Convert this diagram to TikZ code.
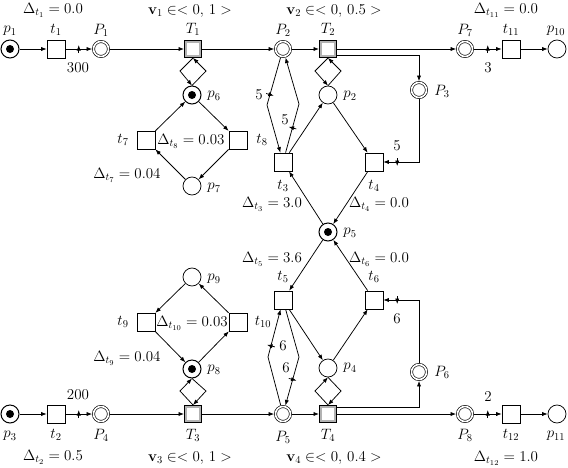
\RequirePackage{fix-cm}
\documentclass[tikz,border=0pt]{standalone}
\usetikzlibrary{arrows.meta,decorations.markings}
\begin{document}
\begin{tikzpicture}[x=1pt,y=-1pt,
  font=\fontsize{15}{17}\selectfont,
  every node/.style={inner sep=0pt},
  pl/.style={circle,draw,line width=0.75pt,minimum size=18pt,inner sep=0pt,fill=white},
  dpl/.style={circle,draw,line width=0.65pt,double,double distance=1.6pt,minimum size=15pt,inner sep=0pt,outer sep=1.4pt},
  tok/.style={pl,line width=1pt,path picture={\fill[black] (path picture bounding box.center) circle (4pt);}},
  tr/.style={rectangle,draw,line width=0.75pt,minimum size=18pt,inner sep=0pt,fill=white},
  Tr/.style={rectangle,draw,line width=0.6pt,double=gray!60,double distance=2.2pt,minimum size=14.6pt,fill=white,outer sep=1.7pt},
  arc/.style={line width=0.75pt,-{Latex[length=5.5pt,width=4.2pt]}},
  tick/.style={postaction={decorate,decoration={markings,mark=at position #1 with {\draw[line width=0.75pt] (0,-4pt)--(0,4pt);}}}}
]
\useasboundingbox (0,0) rectangle (568,467);
% top row
\node[tok] (p1) at (10,49) {};
\node[tr] (t1) at (56,49) {};
\node[dpl] (P1) at (101,49) {};
\node[Tr] (T1) at (193,49) {};
\node[dpl] (P2) at (283,49) {};
\node[Tr] (T2) at (328,49) {};
\node[dpl] (P7) at (465,49) {};
\node[tr] (t11) at (511,49) {};
\node[pl] (p10) at (557,49) {};
\node[dpl] (P3) at (419,90) {};
\node[tok] (p6) at (192,95) {};
\node[pl] (p2) at (328,95) {};
\node[tr] (t7) at (146,140) {};
\node[tr] (t8) at (238,140) {};
\node[pl] (p7) at (192,186) {};
\node[tr] (t3) at (283,162) {};
\node[tr] (t4) at (374,162) {};
\node[tok] (p5) at (328,232) {};
% bottom
\node[tr] (t5) at (283,300) {};
\node[tr] (t6) at (374,300) {};
\node[pl] (p9) at (192,277) {};
\node[tr] (t9) at (146,322) {};
\node[tr] (t10) at (238,322) {};
\node[tok] (p8) at (192,369) {};
\node[pl] (p4) at (328,368) {};
\node[dpl] (P6) at (419,372) {};
\node[tok] (p3) at (10,414) {};
\node[tr] (t2) at (56,414) {};
\node[dpl] (P4) at (101,414) {};
\node[Tr] (T3) at (193,414) {};
\node[dpl] (P5) at (283,414) {};
\node[Tr] (T4) at (328,414) {};
\node[dpl] (P8) at (465,414) {};
\node[tr] (t12) at (511,414) {};
\node[pl] (p11) at (557,414) {};
% corner points
\coordinate (a1) at (180,71); \coordinate (a2) at (206,71);
\coordinate (a3) at (315,71); \coordinate (a4) at (341,71);
\coordinate (b1) at (180,391); \coordinate (b2) at (206,391);
\coordinate (b3) at (315,391); \coordinate (b4) at (341,391);
\coordinate (c1) at (267,105); \coordinate (c2) at (299,104);
\coordinate (c3) at (268,357); \coordinate (c4) at (299,357);
% top row arcs
\draw[arc] (p1) -- (t1);
\draw[arc,tick=0.5] (t1) -- (P1);
\draw[arc] (P1) -- (T1);
\draw[arc] (T1) -- (P2);
\draw[arc] (P2) -- (T2);
\draw[arc] (T2) -- (P7);
\draw[arc] ([yshift=-6pt]T2.east) -| (P3);
\draw[arc,tick=0.5] (P7) -- (t11);
\draw[arc] (t11) -- (p10);
\draw[arc] (T1.south) -- (a1) -- (p6.north);
\draw[arc] (p6.north) -- (a2) -- (T1.south);
\draw[arc] (T2.south) -- (a3) -- (p2.north);
\draw[arc] (p2.north) -- (a4) -- (T2.south);
\draw[arc] (p6) -- (t8);
\draw[arc] (t8) -- (p7);
\draw[arc] (p7) -- (t7);
\draw[arc] (t7) -- (p6);
\draw[arc] (t3) -- (p2);
\draw[arc] (p2) -- (t4);
\draw[arc] (t4) -- (p5);
\draw[arc] (p5) -- (t3);
\draw[arc,tick=0.39] (P2) -- (c1) -- (t3);
\draw[arc,tick=0.26] (t3) -- (c2) -- (P2);
\draw[arc,tick=0.86] (P3) |- (t4);
% bottom arcs
\draw[arc] (p5) -- (t5);
\draw[arc] (t5) -- (p4);
\draw[arc] (p4) -- (t6);
\draw[arc] (t6) -- (p5);
\draw[arc,tick=0.86] (P6) |- (t6);
\draw[arc] (p9) -- (t9);
\draw[arc] (t9) -- (p8);
\draw[arc] (p8) -- (t10);
\draw[arc] (t10) -- (p9);
\draw[arc,tick=0.62] (P5) -- (c3) -- (t5);
\draw[arc,tick=0.73] (t5) -- (c4) -- (P5);
\draw[arc] (T3.north) -- (b1) -- (p8.south);
\draw[arc] (p8.south) -- (b2) -- (T3.north);
\draw[arc] (T4.north) -- (b3) -- (p4.south);
\draw[arc] (p4.south) -- (b4) -- (T4.north);
\draw[arc] (p3) -- (t2);
\draw[arc,tick=0.5] (t2) -- (P4);
\draw[arc] (P4) -- (T3);
\draw[arc] (T3) -- (P5);
\draw[arc] (P5) -- (T4);
\draw[arc] ([yshift=7pt]T4.east) -| (P6);
\draw[arc] (T4) -- (P8);
\draw[arc,tick=0.5] (P8) -- (t12);
\draw[arc] (t12) -- (p11);
% labels top
\node (L1) at (53,10) {$\Delta_{t_1} = 0.0$};
\node (L2) at (190,11) {$\mathbf{v}_1 \in < 0,\, 1 >$};
\node (L3) at (334,11) {$\mathbf{v}_2 \in < 0,\, 0.5 >$};
\node (L4) at (506,10) {$\Delta_{t_{11}} = 0.0$};
\node (lp1) at (10,31) {$p_1$};
\node (lt1) at (56,30) {$t_1$};
\node (lP1) at (101,30) {$P_1$};
\node (lT1) at (193,29) {$T_1$};
\node (lP2) at (283,30) {$P_2$};
\node (lT2) at (328,29) {$T_2$};
\node (lP7) at (465,30) {$P_7$};
\node (lt11) at (511,30) {$t_{11}$};
\node (lp10) at (556,31) {$p_{10}$};
\node (w300) at (78,68) {$300$};
\node (w3) at (488,68) {$3$};
\node (lP3) at (442,91) {$P_3$};
\node (lp6) at (214,96) {$p_6$};
\node (lp2) at (350,96) {$p_2$};
\node (w5a) at (259,95) {$5$};
\node (w5b) at (285,120) {$5$};
\node (w5c) at (397,146) {$5$};
\node (lt7) at (123,140) {$t_7$};
\node (lt8) at (262,140) {$t_8$};
\node (L8) at (191,141) {$\Delta_{t_8} = 0.03$};
\node (L7) at (127,175) {$\Delta_{t_7} = 0.04$};
\node (lp7) at (214,188) {$p_7$};
\node (lt3) at (283,186) {$t_3$};
\node (lt4) at (374,186) {$t_4$};
\node (L33) at (272,204) {$\Delta_{t_3} = 3.0$};
\node (L44) at (379,204) {$\Delta_{t_4} = 0.0$};
\node (lp5) at (350,233) {$p_5$};
% labels bottom
\node (L55) at (272,259) {$\Delta_{t_5} = 3.6$};
\node (L66) at (379,259) {$\Delta_{t_6} = 0.0$};
\node (lt5) at (283,277) {$t_5$};
\node (lt6) at (374,277) {$t_6$};
\node (lp9) at (214,279) {$p_9$};
\node (w6c) at (397,319) {$6$};
\node (lt9) at (123,322) {$t_9$};
\node (lt10) at (263,322) {$t_{10}$};
\node (L10) at (192,323) {$\Delta_{t_{10}} = 0.03$};
\node (L9) at (127,358) {$\Delta_{t_9} = 0.04$};
\node (lp8) at (214,370) {$p_8$};
\node (w6a) at (283,346) {$6$};
\node (w6b) at (286,368) {$6$};
\node (lp4) at (350,368) {$p_4$};
\node (lP6) at (442,372) {$P_6$};
\node (w200) at (78,395) {$200$};
\node (w2) at (488,397) {$2$};
\node (lp3) at (10,436) {$p_3$};
\node (lt2) at (56,435) {$t_2$};
\node (lP4) at (101,435) {$P_4$};
\node (lT3) at (193,435) {$T_3$};
\node (lP5) at (283,437) {$P_5$};
\node (lT4) at (328,435) {$T_4$};
\node (lP8) at (465,435) {$P_8$};
\node (lt12) at (511,435) {$t_{12}$};
\node (lp11) at (556,436) {$p_{11}$};
\node (L2b) at (53,457) {$\Delta_{t_2} = 0.5$};
\node (L3b) at (190,458) {$\mathbf{v}_3 \in < 0,\, 1 >$};
\node (L4b) at (334,458) {$\mathbf{v}_4 \in < 0,\, 0.4 >$};
\node (L12) at (506,458) {$\Delta_{t_{12}} = 1.0$};
\end{tikzpicture}
\end{document}
